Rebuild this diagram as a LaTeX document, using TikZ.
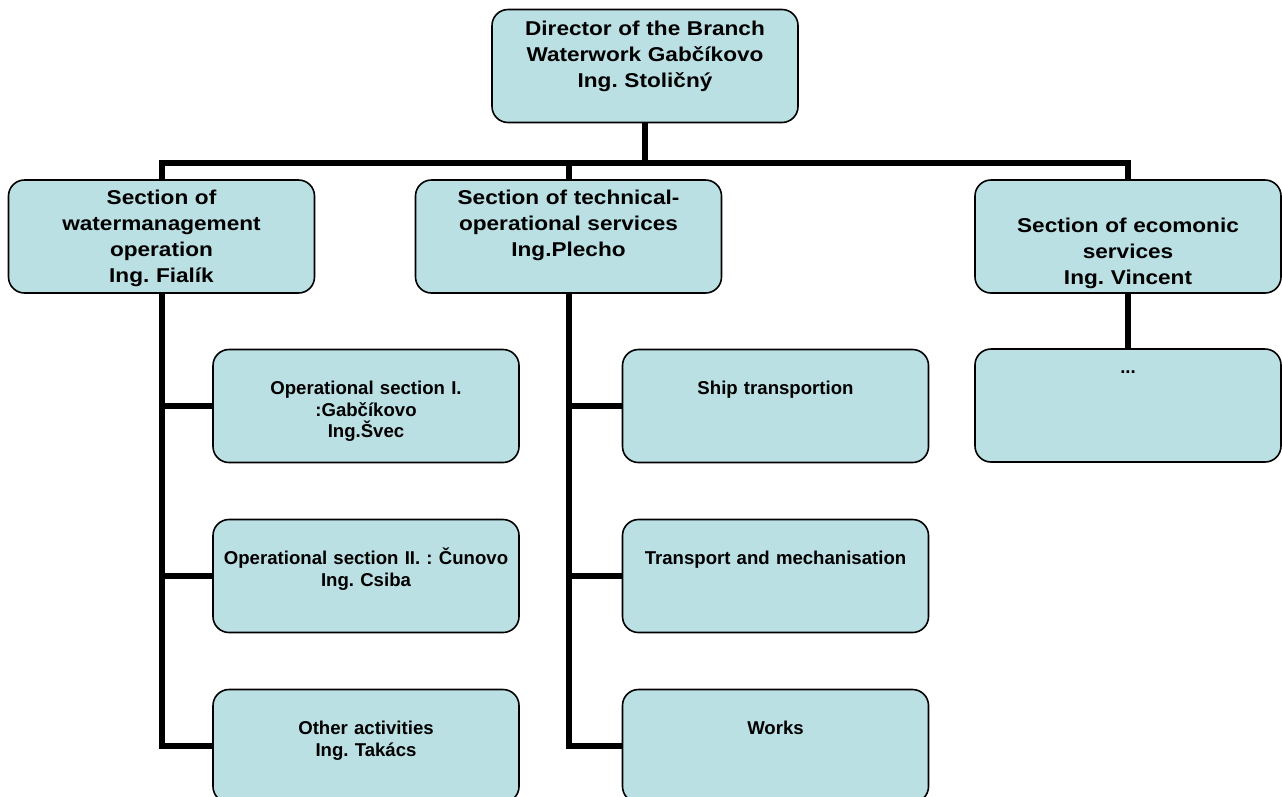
\documentclass[tikz,border=0pt]{standalone}
\usepackage{fontspec}
\setmainfont{Liberation Sans}
\newfontfamily\headfont{Liberation Sans}[FakeStretch=1.13]
\usetikzlibrary{positioning}
\definecolor{boxfill}{RGB}{186,224,228}
\frenchspacing

\begin{document}
\begin{tikzpicture}[x=1pt, y=-1pt,
  box/.style={rectangle, rounded corners=16pt, draw, line width=1.6pt, fill=boxfill, minimum width=306pt, minimum height=113pt, inner sep=0pt},
  headtext/.style={text width=300pt, align=center, anchor=base, inner sep=0pt, font=\headfont\bfseries\fontsize{20}{26}\selectfont},
  subtext/.style={text width=300pt, align=center, anchor=base, inner sep=0pt, font=\bfseries\fontsize{18.6}{21.5}\selectfont},
  link/.style={line width=6pt},
]
  \useasboundingbox (0,0) rectangle (1282,796);

  % director
  \node[box] (dir) at (645,66) {};
  \node[headtext] (dirtxt) at ([yshift=-26.5pt]dir.north) {Director of the Branch\\Waterwork Gabčíkovo\\Ing. Stoličný};

  % sections
  \node[box] (wm) at (161.5,236.5) {};
  \node[headtext] (wmtxt) at ([yshift=-25pt]wm.north) {Section of\\watermanagement\\operation\\Ing. Fialík};

  \node[box] (tech) at (568.5,236.5) {};
  \node[headtext] (techtxt) at ([yshift=-25pt]tech.north) {Section of technical-\\operational services\\Ing.Plecho};

  \node[box] (eco) at (1128,236.5) {};
  \node[headtext] (ecotxt) at ([yshift=-53pt]eco.north) {Section of ecomonic\\services\\Ing. Vincent};

  % units
  \node[box] (op1) at (366,406) {};
  \node[subtext] (op1txt) at ([yshift=-46pt]op1.north) {Operational section I.\\:Gabčíkovo\\Ing.Švec};

  \node[box] (op2) at (366,576) {};
  \node[subtext] (op2txt) at ([yshift=-46pt]op2.north) {Operational section II. : Čunovo\\Ing. Csiba};

  \node[box] (other) at (366,746) {};
  \node[subtext] (othertxt) at ([yshift=-46pt]other.north) {Other activities\\Ing. Takács};

  \node[box] (ship) at (775.5,406) {};
  \node[subtext] (shiptxt) at ([yshift=-46pt]ship.north) {Ship transportion};

  \node[box] (transp) at (775.5,576) {};
  \node[subtext] (transptxt) at ([yshift=-46pt]transp.north) {Transport and mechanisation};

  \node[box] (works) at (775.5,746) {};
  \node[subtext] (workstxt) at ([yshift=-46pt]works.north) {Works};

  \node[box] (ecosub) at (1128,405.5) {};
  \node[subtext] (ecosubtxt) at ([yshift=-25pt]ecosub.north) {...};

  % connectors
  \coordinate (bar) at (645,163);
  \draw[link] (dir.south) -- (bar);
  \draw[link] (wm.north) -- (wm.north |- bar) -- (eco.north |- bar) -- (eco.north);
  \draw[link] (tech.north) -- (tech.north |- bar);

  \draw[link] (wm.south) |- (other.west);
  \draw[link] (wm.south |- op1.west) -- (op1.west);
  \draw[link] (wm.south |- op2.west) -- (op2.west);

  \draw[link] (tech.south) |- (works.west);
  \draw[link] (tech.south |- ship.west) -- (ship.west);
  \draw[link] (tech.south |- transp.west) -- (transp.west);

  \draw[link] (eco.south) -- (ecosub.north);
\end{tikzpicture}
\end{document}
